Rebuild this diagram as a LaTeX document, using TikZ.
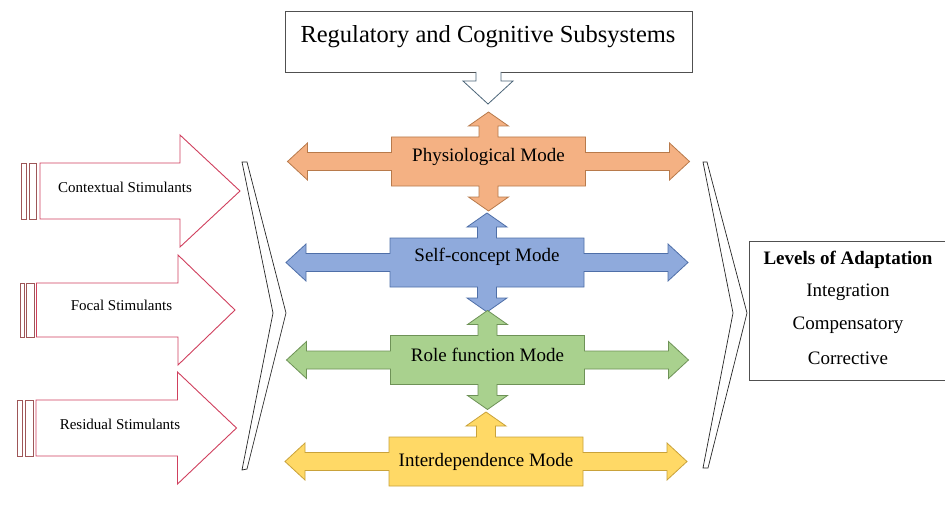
\documentclass[tikz,border=0pt]{standalone}
\usepackage{fontspec}
\setmainfont{Liberation Serif}
\definecolor{orfill}{HTML}{F4B183}
\definecolor{ordraw}{HTML}{B87A4B}
\definecolor{blfill}{HTML}{8FAADC}
\definecolor{bldraw}{HTML}{4F6FA8}
\definecolor{grfill}{HTML}{A9D18E}
\definecolor{grdraw}{HTML}{6E9257}
\definecolor{yefill}{HTML}{FFD966}
\definecolor{yedraw}{HTML}{C9A23A}
\definecolor{arrred}{HTML}{D0405E}
\definecolor{stripe}{HTML}{9E5658}
\definecolor{boxgray}{HTML}{505050}
\definecolor{hollow}{HTML}{4A6478}
\tikzset{
  modetext/.style={font=\fontsize{19}{22}\selectfont, inner sep=0pt},
  stimtext/.style={font=\fontsize{15}{18}\selectfont, inner sep=0pt},
  leveltext/.style={font=\fontsize{19}{22}\selectfont, inner sep=0pt},
  stimarrow/.style={draw=arrred, fill=white, line width=0.9pt, line join=miter},
  stripebox/.style={draw=stripe, fill=white, line width=0.9pt},
  chev/.style={draw=black!85, fill=white, line width=0.7pt, line join=miter},
}
% cross with up arrow, optional down arrow: #1 center, #2 fill, #3 draw, #4 1=down arrow
\newcommand{\modecross}[4]{%
  \begin{scope}[shift={#1}]
  \ifnum#4=1
  \filldraw[fill=#2, draw=#3, line width=0.8pt, line join=miter]
    (-97,-24.5) -- (-9.5,-24.5) -- (-9.5,-35.5) -- (-20,-35.5) -- (0,-49.5) -- (20,-35.5) -- (9.5,-35.5) -- (9.5,-24.5)
    -- (97,-24.5) -- (97,-9) -- (181,-9) -- (181,-18.5) -- (201,0) -- (181,18.5) -- (181,9) -- (97,9) -- (97,24.5)
    -- (9.5,24.5) -- (9.5,35.5) -- (20,35.5) -- (0,49.5) -- (-20,35.5) -- (-9.5,35.5) -- (-9.5,24.5)
    -- (-97,24.5) -- (-97,9) -- (-181,9) -- (-181,18.5) -- (-201,0) -- (-181,-18.5) -- (-181,-9) -- (-97,-9) -- cycle;
  \else
  \filldraw[fill=#2, draw=#3, line width=0.8pt, line join=miter]
    (-97,-24.5) -- (-9.5,-24.5) -- (-9.5,-35.5) -- (-20,-35.5) -- (0,-49.5) -- (20,-35.5) -- (9.5,-35.5) -- (9.5,-24.5)
    -- (97,-24.5) -- (97,-9) -- (181,-9) -- (181,-18.5) -- (201,0) -- (181,18.5) -- (181,9) -- (97,9) -- (97,24.5)
    -- (-97,24.5) -- (-97,9) -- (-181,9) -- (-181,18.5) -- (-201,0) -- (-181,-18.5) -- (-181,-9) -- (-97,-9) -- cycle;
  \fi
  \end{scope}}
% stimulus arrow: #1 stripe1 x0, #2 stripe1 x1, #3 stripe2 x0, #4 stripe2 x1, #5 body x0, #6 head base x, #7 tip x, #8 body top, #9 body bottom
\newcommand{\stimarrowshape}[9]{%
  \pgfmathsetmacro{\midy}{(#8+#9)/2}%
  \pgfmathsetmacro{\hh}{(#9-#8)/2+28}%
  \draw[stripebox] (#1,#8) rectangle (#2,#9);
  \draw[stripebox] (#3,#8) rectangle (#4,#9);
  \draw[stimarrow] (#5,#8) -- (#6,#8) -- (#6,\midy-\hh) -- (#7,\midy) -- (#6,\midy+\hh) -- (#6,#9) -- (#5,#9) -- cycle;
}
\begin{document}
\begin{tikzpicture}[x=1pt,y=-1pt]
\useasboundingbox (0,0) rectangle (945,516);
\fill[white] (0,0) rectangle (945,516);
\clip (0,0) rectangle (945,516);

% top box
\draw[boxgray, line width=0.9pt, fill=white] (285,11) rectangle (692,72);
\node[font=\fontsize{24.5}{28}\selectfont, inner sep=0pt] (top) at (488,37) {Regulatory and Cognitive Subsystems};
% hollow arrow
\draw[hollow, line width=0.8pt, fill=white, line join=miter] (476,72) -- (476,81) -- (463,81) -- (488,104) -- (513,81) -- (501,81) -- (501,72);

% mode crosses
\modecross{(488.5,161.5)}{orfill}{ordraw}{1}
\modecross{(487,262.5)}{blfill}{bldraw}{1}
\modecross{(487.5,360)}{grfill}{grdraw}{1}
\modecross{(486,461.5)}{yefill}{yedraw}{0}
\node[modetext] (phys) at (488.5,157) {Physiological Mode};
\node[modetext] (self) at (487,257) {Self-concept Mode};
\node[modetext] (role) at (487.5,354.5) {Role function Mode};
\node[modetext] (inter) at (486,461.5) {Interdependence Mode};

% stimulus arrows
\stimarrowshape{21.5}{26}{29}{36.5}{40}{180}{240}{163}{219}
\stimarrowshape{20}{24}{26.5}{34}{36.5}{178}{235}{283}{337}
\stimarrowshape{17}{22.5}{25}{33}{36}{177.5}{236.5}{400}{456}
\node[stimtext] (ctx) at (125,187) {Contextual Stimulants};
\node[stimtext] (foc) at (121.5,305) {Focal Stimulants};
\node[stimtext] (res) at (120,424) {Residual Stimulants};

% chevrons
\draw[chev] (242,162) -- (247,162) -- (286,313) -- (247,469) -- (242,470) -- (273,313) -- cycle;
\draw[chev] (703,162) -- (707,162) -- (747,313) -- (708,468) -- (703,468) -- (733,313) -- cycle;

% levels box
\draw[boxgray, line width=0.9pt] (960,241) -- (749,241) -- (749,380) -- (960,380);
\node[leveltext, font=\fontsize{19}{22}\selectfont\bfseries] (lev) at (848,259.5) {Levels of Adaptation};
\node[leveltext] (integ) at (848,292.5) {Integration};
\node[leveltext] (comp) at (848,325.5) {Compensatory};
\node[leveltext] (corr) at (848,358) {Corrective};
\end{tikzpicture}
\end{document}
